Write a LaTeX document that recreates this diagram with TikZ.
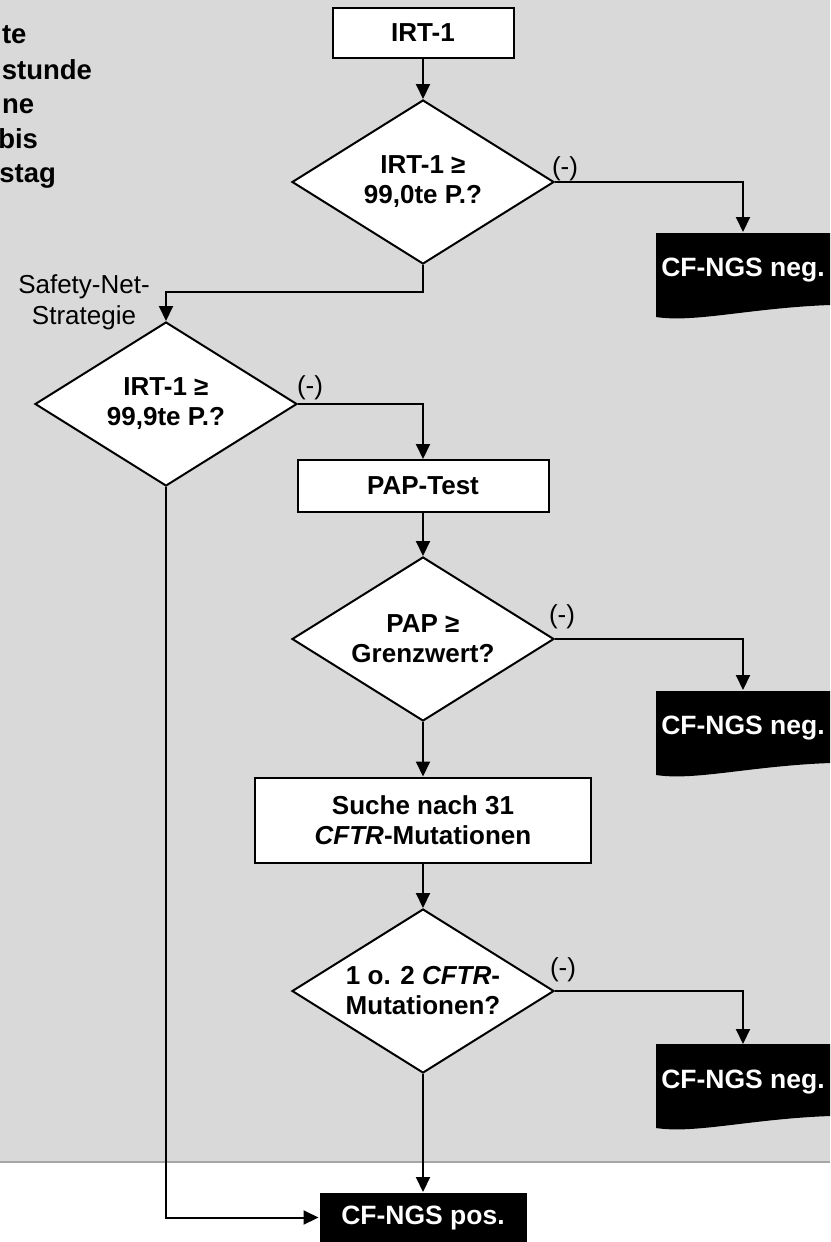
\documentclass[tikz,border=0pt]{standalone}
\usepackage{fontspec}
\setmainfont{Liberation Sans}
\usetikzlibrary{shapes.geometric,arrows.meta}
\definecolor{bggray}{HTML}{D9D9D9}
\definecolor{edgegray}{HTML}{A6A6A6}
\begin{document}
\begin{tikzpicture}[x=1pt,y=-1pt,
  line width=2pt,
  txt/.style={font=\bfseries\fontsize{26}{30}\selectfont,align=center},
  box/.style={txt,draw=black,fill=white,line width=2pt,inner sep=0pt},
  dec/.style={txt,diamond,draw=black,fill=white,line width=2pt,minimum width=262pt,minimum height=164pt,inner sep=0pt,aspect=1.6},
  negbox/.style={minimum width=174pt,minimum height=74pt,inner sep=0pt,text=white,font=\bfseries\fontsize{26.5}{30}\selectfont},
  posbox/.style={fill=black,text=white,minimum width=207pt,minimum height=49pt,inner sep=0pt,font=\bfseries\fontsize{26.5}{30}\selectfont},
  lab/.style={font=\fontsize{26}{31}\selectfont,align=center,inner sep=0pt},
  frag/.style={anchor=base east,inner sep=0pt,font=\bfseries\fontsize{27.5}{35}\selectfont},
  arr/.style={-{Triangle[width=14pt,length=15pt]},line width=2pt}
]
\useasboundingbox (0,0) rectangle (830,1242);
\fill[bggray] (0,0) rectangle (830,1162);
\draw[edgegray,line width=1.5pt] (0,1162) -- (830,1162);

% text fragments at top left
\node[frag,anchor=base west] (f1) at (1,43) {te};
\node[frag] (f2) at (93,79) {stunde};
\node[frag,anchor=base west] (f3) at (1,113) {ne};
\node[frag] (f4) at (39,148) {bis};
\node[frag] (f5) at (57,182) {stag};

% document shapes (negative results)
\foreach \t in {233,691,1044}{
  \fill[black] (656,\t) -- (830,\t) -- (830,\t+72)
    .. controls (750,\t+75) and (695,\t+90) .. (656,\t+84) -- cycle;
}

\node[box,minimum width=181pt,minimum height=50pt] (irt) at (423,33) {IRT-1};
\node[dec] (d1) at (423,182) {IRT-1 ≥\\99,0te P.?};
\node[negbox] (n1) at (743,270) {CF-NGS neg.};
\node[lab] (safety) at (84,302) {Safety-Net-\\Strategie};
\node[dec] (d2) at (166,404) {IRT-1 ≥\\99,9te P.?};
\node[box,minimum width=251pt,minimum height=52pt] (pap) at (423,486) {PAP-Test};
\node[dec] (d3) at (423,639) {PAP ≥\\Grenzwert?};
\node[negbox] (n2) at (743,728) {CF-NGS neg.};
\node[box,minimum width=336pt,minimum height=85pt] (suche) at (423,820) {Suche nach 31\\\textit{CFTR}-Mutationen};
\node[dec] (d4) at (423,991) {1 o. 2 \textit{CFTR}-\\Mutationen?};
\node[negbox] (n3) at (743,1082) {CF-NGS neg.};
\node[posbox] (pos) at (423,1217.5) {CF-NGS pos.};

\node[lab] (m1) at (565,169) {(-)};
\node[lab] (m2) at (310,388) {(-)};
\node[lab] (m3) at (562,617) {(-)};
\node[lab] (m4) at (563,970) {(-)};

\draw[arr] (irt.south) -- (d1.north);
\draw[arr] (d1.east) -| (n1.north);
\draw[arr] (d1.south) -- ++(0,27) -| (d2.north);
\draw[arr] (d2.east) -| (pap.north);
\draw[arr] (pap.south) -- (d3.north);
\draw[arr] (d3.east) -| (n2.north);
\draw[arr] (d3.south) -- (suche.north);
\draw[arr] (suche.south) -- (d4.north);
\draw[arr] (d4.east) -| (n3.north);
\draw[arr] (d4.south) -- (pos.north);
\draw[arr] (d2.south) |- (pos.west);
\end{tikzpicture}
\end{document}
